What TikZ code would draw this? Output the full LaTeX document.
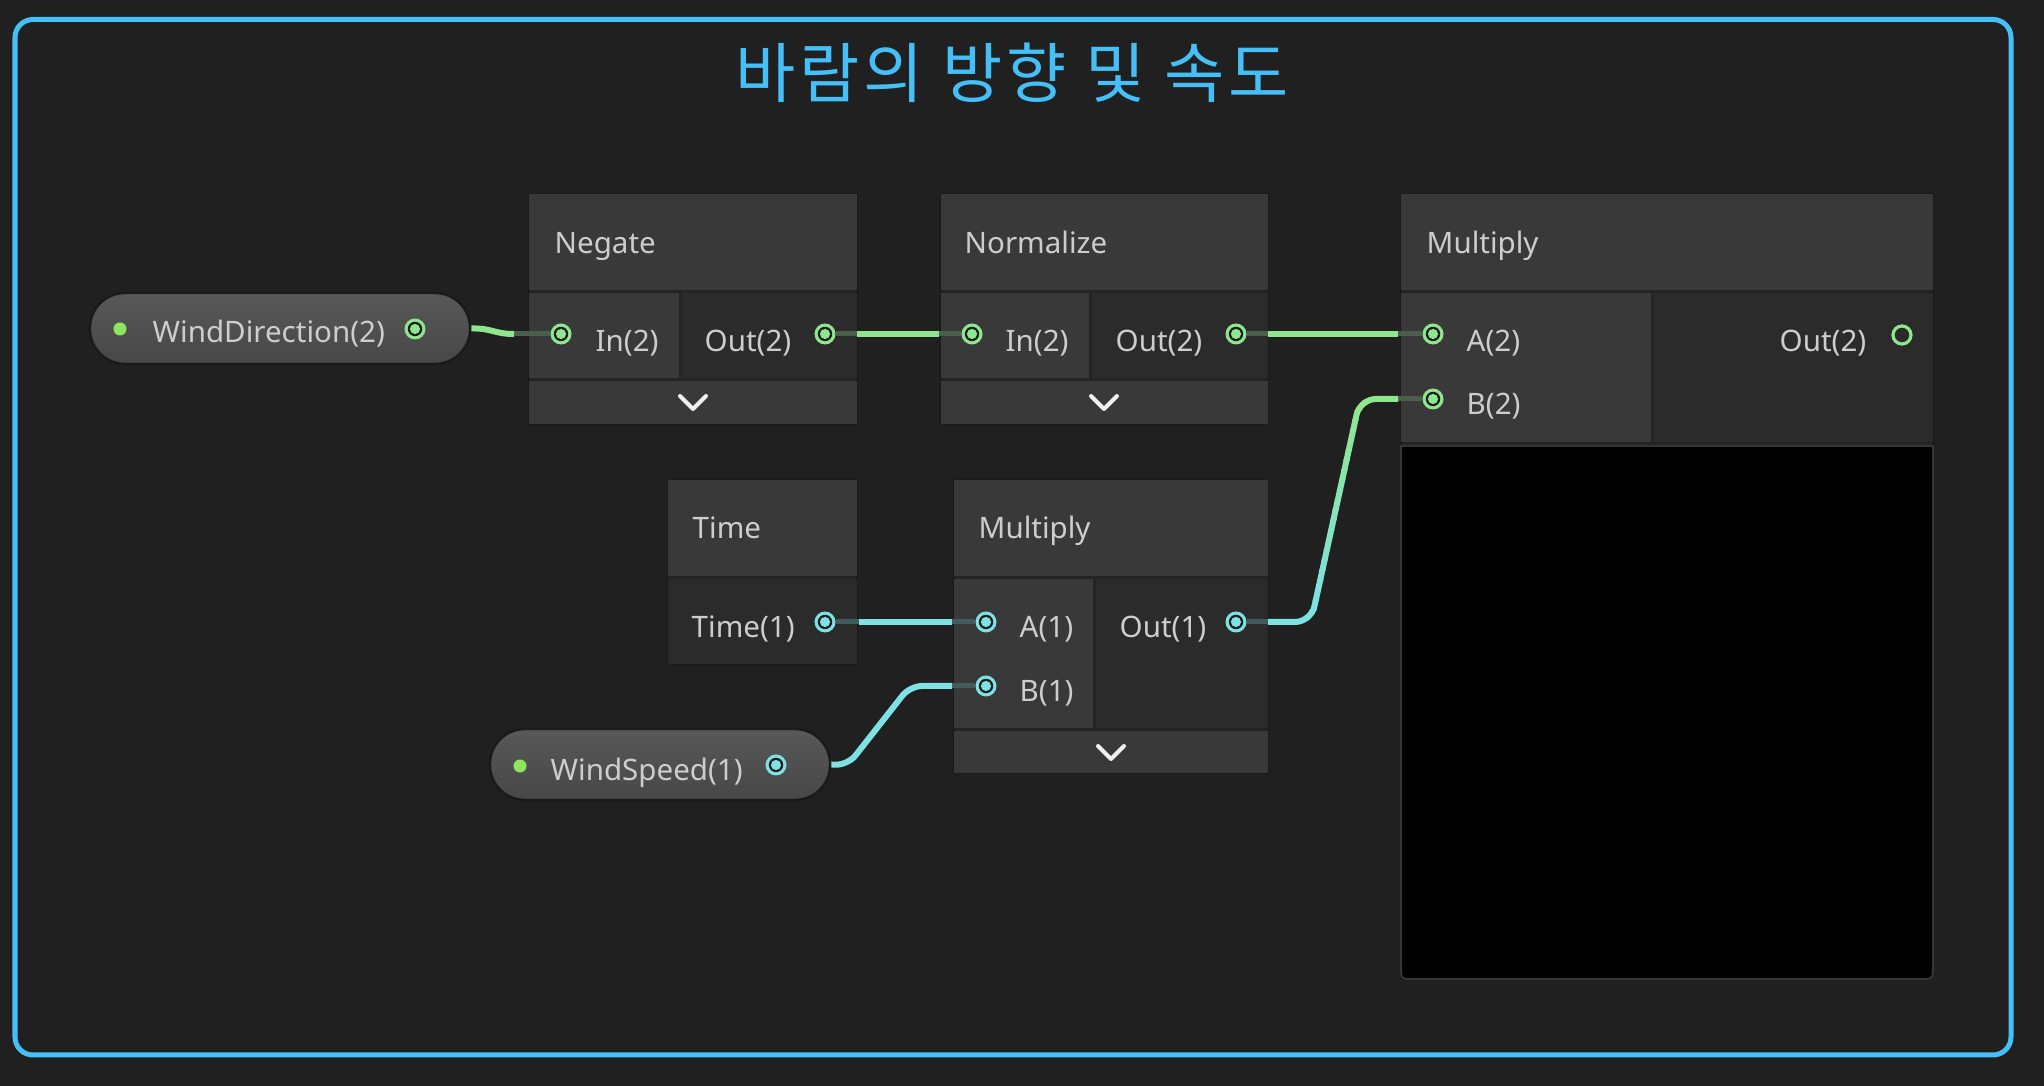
\documentclass[tikz,border=0pt]{standalone}
\usepackage{fontspec}
\setmainfont{Noto Sans}
\newfontfamily\kofont[LetterSpace=6]{Noto Sans CJK KR}
\definecolor{bg}{HTML}{202020}
\definecolor{frameblue}{HTML}{45BFF8}
\definecolor{hdr}{HTML}{393939}
\definecolor{incell}{HTML}{393939}
\definecolor{outcell}{HTML}{2B2B2B}
\definecolor{sep}{HTML}{242424}
\definecolor{rim}{HTML}{1A1A1A}
\definecolor{portin}{HTML}{1C1C1C}
\definecolor{txt}{HTML}{CDCDCD}
\definecolor{wgreen}{HTML}{8EE68E}
\definecolor{wcyan}{HTML}{7EE1E4}
\definecolor{sgreen}{HTML}{4B604B}
\definecolor{scyan}{HTML}{405D5E}
\definecolor{dotgreen}{HTML}{8EE65E}
\definecolor{chev}{HTML}{F0F0F0}
\definecolor{pilltop}{HTML}{585858}
\definecolor{pillbot}{HTML}{474747}
\definecolor{pvrim}{HTML}{363636}
\begin{document}
\begin{tikzpicture}[x=0.01cm,y=-0.01cm,
  lbl/.style={anchor=base west, inner sep=0, text=txt, font=\fontsize{8.4}{10}\selectfont},
  lble/.style={lbl, anchor=base east},
  nodebox/.style={draw=rim, line width=0.02cm, fill=sep, anchor=north west, inner sep=0, outer sep=0},
  pill/.style={draw=rim, line width=0.025cm, top color=pilltop, bottom color=pillbot, rounded corners=0.35cm, inner sep=0},
  port/.style={circle, fill=#1, minimum size=0.21cm, inner sep=0,
    path picture={\fill[portin] (path picture bounding box.center) circle (0.072cm);
                  \fill[#1] (path picture bounding box.center) circle (0.051cm);}},
  emptyport/.style={circle, draw=#1, line width=0.032cm, fill=outcell, minimum size=0.18cm, inner sep=0},
  pdot/.style={circle, fill=dotgreen, minimum size=0.13cm, inner sep=0},
  wireg/.style={draw=wgreen, line width=0.06cm},
  wirec/.style={draw=wcyan, line width=0.06cm},
  stubg/.style={draw=sgreen, line width=0.05cm},
  stubc/.style={draw=scyan, line width=0.05cm},
  chevron/.style={draw=chev, line width=0.04cm, line cap=round, line join=round},
]
\useasboundingbox (0,0) rectangle (2044,1086);
\fill[bg] (0,0) rectangle (2044,1086);
% frame
\draw[frameblue, line width=0.05cm, rounded corners=0.18cm] (15,19.5) rectangle (2011,1055);
\node[font=\kofont\fontsize{18.6}{20}\selectfont, text=frameblue, anchor=base, inner sep=0] (title) at (1012,98) {바람의 방향 및 속도};

% ---------- node boxes ----------
% Negate
\node[nodebox, minimum width=3.28cm, minimum height=2.30cm] (negate) at (529,194) {};
\fill[hdr] (529,194) rectangle (857,290);
\fill[incell] (529,293) rectangle (679,378);
\fill[outcell] (682,293) rectangle (857,378);
\fill[hdr] (529,381) rectangle (857,424);
% Normalize
\node[nodebox, minimum width=3.27cm, minimum height=2.30cm] (normalize) at (941,194) {};
\fill[hdr] (941,194) rectangle (1268,290);
\fill[incell] (941,293) rectangle (1089,378);
\fill[outcell] (1092,293) rectangle (1268,378);
\fill[hdr] (941,381) rectangle (1268,424);
% Big Multiply
\node[nodebox, minimum width=5.32cm, minimum height=7.85cm] (bigmul) at (1401,194) {};
\fill[hdr] (1401,194) rectangle (1933,290);
\fill[incell] (1401,293) rectangle (1651,442);
\fill[outcell] (1654,293) rectangle (1933,442);
\draw[draw=pvrim, fill=black, line width=0.02cm] (1401,446) -- (1933,446) -- (1933,967)
  .. controls (1933,979) .. (1921,979) -- (1413,979) .. controls (1401,979) .. (1401,967) -- cycle;
% Time
\node[nodebox, minimum width=1.89cm, minimum height=1.84cm] (time) at (668,480) {};
\fill[hdr] (668,480) rectangle (857,576);
\fill[outcell] (668,579) rectangle (857,664);
% Small Multiply
\node[nodebox, minimum width=3.14cm, minimum height=2.93cm] (smul) at (954,480) {};
\fill[hdr] (954,480) rectangle (1268,576);
\fill[incell] (954,579) rectangle (1093,728);
\fill[outcell] (1096,579) rectangle (1268,728);
\fill[hdr] (954,731) rectangle (1268,773);

% chevrons
\draw[chevron] (680,396) -- (693,409) -- (706,396);
\draw[chevron] (1091,396) -- (1104,409) -- (1117,396);
\draw[chevron] (1098,746) -- (1111,759) -- (1124,746);

% pills
\node[pill, minimum width=3.80cm, minimum height=0.71cm] (wd) at (280,328.5) {};
\node[pill, minimum width=3.40cm, minimum height=0.71cm] (ws) at (660,764.5) {};
\node[pdot] (wdDot) at (120,329) {};
\node[pdot] (wsDot) at (520,766) {};

% ---------- labels ----------
\node[lbl] (wdT) at (152,343) {WindDirection(2)};
\node[lbl] (wsT) at (550,781) {WindSpeed(1)};
\node[lbl] (negT) at (554,254) {Negate};
\node[lbl] (negInT) at (595,352) {In(2)};
\node[lbl] (negOutT) at (704,352) {Out(2)};
\node[lbl] (norT) at (964,254) {Normalize};
\node[lbl] (norInT) at (1005,352) {In(2)};
\node[lbl] (norOutT) at (1115,352) {Out(2)};
\node[lbl] (mulT) at (1426,254) {Multiply};
\node[lbl] (mulAT) at (1466,352) {A(2)};
\node[lbl] (mulBT) at (1466,415) {B(2)};
\node[lble] (mulOutT) at (1867,352) {Out(2)};
\node[lbl] (timeT) at (692,539) {Time};
\node[lbl] (timeOutT) at (691,638) {Time(1)};
\node[lbl] (smT) at (978,539) {Multiply};
\node[lbl] (smAT) at (1019,638) {A(1)};
\node[lbl] (smBT) at (1019,702) {B(1)};
\node[lbl] (smOutT) at (1119,638) {Out(1)};

% ---------- ports ----------
\node[port=wgreen] (wdOut) at (415,329) {};
\node[port=wgreen] (negIn) at (561,334) {};
\node[port=wgreen] (negOut) at (825,334) {};
\node[port=wgreen] (norIn) at (972,334) {};
\node[port=wgreen] (norOut) at (1236,334) {};
\node[port=wgreen] (mulA) at (1433,334) {};
\node[port=wgreen] (mulB) at (1433,399) {};
\node[emptyport=wgreen] (mulOut) at (1902,335) {};
\node[port=wcyan] (timeOut) at (825,622) {};
\node[port=wcyan] (smA) at (986,622) {};
\node[port=wcyan] (smB) at (986,686) {};
\node[port=wcyan] (smOut) at (1236,622) {};
\node[port=wcyan] (wsOut) at (776,765) {};

% stub ends
\coordinate (negInS) at (514,334);
\coordinate (negOutS) at (857,334);
\coordinate (norInS) at (939,334);
\coordinate (norOutS) at (1268,334);
\coordinate (mulAS) at (1398,334);
\coordinate (mulBS) at (1398,399);
\coordinate (timeOutS) at (859,622);
\coordinate (smAS) at (952,622);
\coordinate (smBS) at (952,686);
\coordinate (smOutS) at (1268,622);

% stubs
\draw[stubg] (negInS) -- (negIn);
\draw[stubg] (negOut) -- (negOutS);
\draw[stubg] (norInS) -- (norIn);
\draw[stubg] (norOut) -- (norOutS);
\draw[stubg] (mulAS) -- (mulA);
\draw[stubg] (mulBS) -- (mulB);
\draw[stubc] (timeOut) -- (timeOutS);
\draw[stubc] (smAS) -- (smA);
\draw[stubc] (smBS) -- (smB);
\draw[stubc] (smOut) -- (smOutS);

% wires
\draw[wireg] (wd.east) .. controls (492,328) and (494,334) .. (negInS);
\draw[wireg] (negOutS) -- (norInS);
\draw[wireg] (norOutS) -- (mulAS);
\draw[wirec] (timeOutS) -- (smAS);
\draw[wirec, rounded corners=0.12cm] (ws.east) -- (848,765) -- (910,686) -- (smBS);
% gradient wire Multiply(1) -> B(2)
\foreach \i in {0,...,23} {
  \pgfmathsetmacro\ya{390+\i*10}
  \pgfmathsetmacro\yb{\ya+11}
  \pgfmathtruncatemacro\pc{max(0,min(100,(610-(\ya+5))/2))}
  \begin{scope}
    \clip (1250,\ya) rectangle (1420,\yb);
    \draw[line width=0.06cm, draw=wgreen!\pc!wcyan, rounded corners=0.16cm]
      (smOutS) -- (1311,622) -- (1360,399) -- (mulBS);
  \end{scope}
}
\end{tikzpicture}
\end{document}
